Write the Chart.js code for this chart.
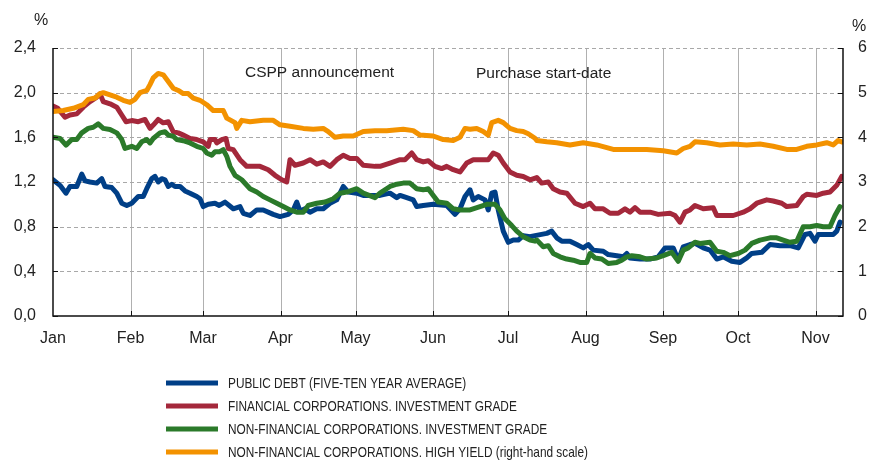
<!DOCTYPE html>
<html>
<head>
<meta charset="utf-8">
<script src="https://cdn.jsdelivr.net/npm/chart.js@4.4.1/dist/chart.umd.min.js"></script>
<style>
  body { margin: 0; background: #fff; }
  #wrap { width: 871px; height: 462px; position: relative; }
</style>
</head>
<body>
<div id="wrap"><canvas id="myChart"></canvas></div>
<script>
// days counted from 1 Jan 2016 (leap year)
const monthStarts = [0, 31, 60, 91, 121, 152, 182, 213, 244, 274, 305];
const monthLabels = ['Jan', 'Feb', 'Mar', 'Apr', 'May', 'Jun', 'Jul', 'Aug', 'Sep', 'Oct', 'Nov'];

const seriesLabels = [
    'PUBLIC DEBT (FIVE-TEN YEAR AVERAGE)',
    'FINANCIAL CORPORATIONS. INVESTMENT GRADE',
    'NON-FINANCIAL CORPORATIONS. INVESTMENT GRADE',
    'NON-FINANCIAL CORPORATIONS. HIGH YIELD (right-hand scale)'
];

// [day, %]
const publicDebt = [
    [0,1.22],[2.8,1.17],[5.2,1.10],[6.8,1.16],[9.5,1.16],[11.5,1.27],[12.8,1.21],[14.8,1.20],[17.5,1.19],[19.5,1.23],
    [20.8,1.16],[23.5,1.15],[25.5,1.10],[27.5,1.01],[29.5,0.99],[31.5,1.01],[34.1,1.07],[36.1,1.07],[37.5,1.14],[39.5,1.23],
    [40.8,1.25],[42.1,1.20],[43.5,1.23],[44.8,1.22],[46.1,1.16],[47.5,1.18],[48.8,1.16],[50.8,1.16],[52.8,1.12],[54.8,1.10],
    [57.5,1.07],[58.8,1.05],[60.1,0.98],[62.1,1.00],[64.8,1.01],[66.5,0.99],[68.8,1.02],[72.1,0.96],[74.8,0.98],[76.1,0.92],
    [78.8,0.90],[81.5,0.95],[84.1,0.95],[88.1,0.91],[90.8,0.89],[94.1,0.91],[96.1,0.95],[97.5,1.02],[98.8,0.94],[100.8,0.96],
    [102.8,0.93],[105.5,0.96],[108.1,0.96],[110.8,1.01],[113.5,1.04],[116.1,1.16],[118.1,1.11],[121.5,1.10],[124.1,1.08],[128.8,1.08],
    [130.8,1.08],[134.8,1.10],[137.5,1.06],[138.8,1.08],[141.5,1.06],[144.1,1.04],[145.5,0.98],[148.1,0.99],[152.1,1.00],[157.5,0.99],
    [160.8,0.91],[162.8,0.96],[164.8,1.07],[166.8,1.13],[168.1,1.04],[170.1,1.07],[172.8,1.04],[174.1,0.95],[175.5,1.10],[176.8,1.11],
    [178.1,0.95],[180.1,0.76],[182.1,0.66],[184.1,0.68],[186.1,0.68],[188.1,0.72],[190.8,0.71],[192.8,0.72],[197.5,0.74],[199.5,0.76],
    [201.5,0.70],[203.5,0.67],[206.8,0.67],[209.5,0.64],[212.1,0.61],[214.1,0.64],[216.1,0.59],[220.1,0.58],[222.1,0.55],[225.5,0.54],
    [228.1,0.53],[229.5,0.56],[230.8,0.52],[234.8,0.51],[238.8,0.51],[242.1,0.53],[244.8,0.61],[248.1,0.61],[250.1,0.50],[252.1,0.62],
    [254.8,0.64],[256.8,0.65],[260.1,0.61],[262.8,0.59],[265.5,0.51],[268.1,0.53],[271.5,0.49],[274.8,0.48],[277.5,0.52],[279.5,0.56],
    [283.5,0.57],[286.8,0.64],[290.8,0.63],[294.8,0.63],[298.1,0.61],[300.8,0.73],[302.8,0.74],[304.8,0.67],[306.1,0.73],[309.5,0.73],
    [312.1,0.73],[313.5,0.76],[314.8,0.84]
];

const financialIG = [
    [0,1.88],[1.9,1.86],[4.8,1.78],[6.8,1.80],[9.5,1.81],[12.1,1.87],[14.8,1.92],[17.5,1.96],[18.8,1.99],[20.1,1.92],
    [22.8,1.90],[25.5,1.87],[27.5,1.80],[29.2,1.74],[31.5,1.75],[34.1,1.74],[36.8,1.76],[38.8,1.68],[40.1,1.71],[42.1,1.76],
    [44.1,1.73],[46.1,1.74],[48.1,1.65],[50.1,1.64],[52.1,1.62],[54.8,1.59],[57.5,1.58],[60.1,1.56],[62.1,1.52],[62.8,1.58],
    [64.8,1.58],[65.5,1.55],[67.5,1.58],[69.2,1.59],[70.1,1.50],[72.1,1.49],[74.8,1.40],[77.5,1.34],[80.1,1.34],[82.8,1.34],
    [86.1,1.31],[88.8,1.26],[91.5,1.22],[93.5,1.20],[94.8,1.40],[96.8,1.35],[100.1,1.37],[102.8,1.40],[105.5,1.36],[108.1,1.38],
    [110.8,1.34],[113.5,1.40],[116.1,1.44],[118.8,1.41],[121.5,1.41],[124.1,1.35],[128.8,1.34],[130.8,1.34],[134.8,1.37],[138.8,1.40],
    [140.8,1.40],[143.5,1.46],[145.5,1.40],[148.1,1.38],[150.1,1.39],[152.8,1.34],[155.5,1.32],[157.5,1.34],[160.1,1.31],[162.8,1.29],
    [165.5,1.37],[168.1,1.40],[170.8,1.40],[174.1,1.40],[176.1,1.46],[178.1,1.44],[180.1,1.37],[182.8,1.29],[185.5,1.26],[188.1,1.25],
    [190.8,1.22],[193.5,1.24],[195.5,1.19],[198.1,1.20],[200.1,1.14],[202.8,1.11],[205.5,1.10],[208.8,1.01],[212.1,0.98],[214.8,1.01],
    [216.8,0.96],[220.1,0.96],[222.8,0.92],[226.1,0.92],[228.8,0.96],[230.8,0.93],[232.8,0.97],[234.8,0.93],[238.8,0.93],[242.1,0.91],
    [246.8,0.92],[248.8,0.90],[250.8,0.84],[252.8,0.93],[254.8,0.95],[256.8,0.99],[260.1,0.96],[264.1,0.97],[265.5,0.90],[268.1,0.90],
    [272.1,0.90],[276.1,0.93],[278.8,0.96],[281.5,1.01],[285.5,1.04],[288.1,1.03],[291.5,1.01],[293.5,0.98],[297.5,0.99],[300.1,1.07],
    [301.5,1.09],[305.5,1.08],[308.1,1.10],[310.8,1.11],[313.5,1.17],[315.5,1.25]
];

const nonFinancialIG = [
    [0,1.60],[2.8,1.59],[5.2,1.53],[7.5,1.58],[9.5,1.58],[11.5,1.64],[14.1,1.68],[16.1,1.69],[18.1,1.72],[20.1,1.68],
    [22.8,1.67],[25.5,1.64],[27.5,1.58],[28.8,1.50],[31.5,1.52],[33.5,1.50],[35.5,1.56],[37.5,1.58],[38.8,1.55],[40.1,1.59],
    [42.8,1.64],[44.8,1.65],[46.1,1.62],[48.1,1.61],[49.5,1.58],[52.1,1.57],[54.8,1.55],[57.5,1.52],[60.1,1.50],[61.5,1.46],
    [63.5,1.44],[64.8,1.47],[66.5,1.47],[68.1,1.49],[69.5,1.43],[70.8,1.34],[72.8,1.26],[75.5,1.22],[78.8,1.14],[81.5,1.11],
    [84.1,1.07],[86.8,1.04],[89.5,1.01],[92.1,0.98],[94.8,0.95],[97.5,0.93],[100.1,0.93],[102.1,0.99],[105.5,1.01],[108.8,1.02],
    [112.1,1.05],[114.8,1.10],[117.5,1.11],[121.5,1.14],[124.1,1.10],[128.8,1.06],[130.8,1.10],[134.8,1.16],[137.5,1.18],[140.1,1.19],
    [142.8,1.19],[145.5,1.14],[148.1,1.13],[150.1,1.14],[152.1,1.08],[154.1,1.02],[157.5,1.01],[160.1,0.96],[162.8,0.95],[166.8,0.95],
    [170.8,0.98],[173.5,1.00],[176.8,1.00],[178.8,0.95],[180.8,0.87],[183.5,0.81],[185.5,0.76],[188.1,0.71],[190.8,0.68],[192.8,0.67],
    [193.5,0.68],[196.1,0.62],[198.1,0.63],[200.1,0.56],[202.8,0.53],[205.5,0.51],[208.1,0.50],[210.8,0.48],[213.5,0.48],[214.8,0.56],
    [216.8,0.52],[219.5,0.51],[222.1,0.47],[225.5,0.48],[227.5,0.50],[229.5,0.53],[231.5,0.54],[234.8,0.53],[237.5,0.51],[241.5,0.52],
    [244.1,0.54],[247.5,0.57],[250.1,0.49],[252.1,0.59],[254.1,0.61],[256.8,0.66],[258.8,0.65],[262.8,0.66],[265.5,0.58],[268.1,0.57],
    [270.8,0.54],[274.1,0.56],[276.8,0.59],[279.5,0.65],[282.8,0.68],[286.8,0.70],[289.5,0.70],[292.1,0.68],[294.8,0.66],[297.5,0.67],
    [300.1,0.80],[302.8,0.80],[305.5,0.81],[308.1,0.80],[310.8,0.80],[312.8,0.90],[314.8,0.98]
];

// right-hand scale
const nonFinancialHY = [
    [0,4.58],[4.1,4.60],[8.1,4.65],[12.1,4.73],[14.1,4.85],[16.8,4.88],[18.8,4.98],[20.1,5.00],[22.8,4.95],[25.5,4.90],
    [28.1,4.83],[30.8,4.78],[32.8,4.85],[34.8,5.00],[37.5,5.05],[38.8,5.18],[40.1,5.33],[42.1,5.43],[44.1,5.40],[46.1,5.25],
    [48.1,5.10],[50.1,5.05],[52.1,4.98],[54.1,4.98],[56.1,4.88],[58.8,4.83],[61.5,4.73],[64.1,4.60],[68.1,4.60],[69.5,4.43],
    [72.8,4.33],[73.5,4.20],[75.5,4.38],[78.8,4.35],[84.1,4.38],[88.1,4.38],[90.8,4.28],[94.8,4.25],[100.1,4.20],[104.1,4.18],
    [108.1,4.20],[110.1,4.13],[112.8,4.00],[116.1,4.03],[120.1,4.03],[124.1,4.13],[128.8,4.15],[133.5,4.15],[140.1,4.18],[144.1,4.15],
    [146.8,4.05],[152.1,4.03],[156.1,3.95],[160.1,3.93],[162.8,4.00],[164.8,4.20],[166.8,4.18],[169.5,4.20],[172.1,4.13],[174.1,4.05],
    [175.5,4.33],[178.1,4.38],[180.1,4.33],[182.8,4.20],[185.5,4.15],[188.1,4.13],[190.1,4.08],[192.8,3.98],[193.5,3.93],[197.5,3.90],
    [201.5,3.88],[206.8,3.83],[212.1,3.88],[217.5,3.83],[224.1,3.73],[230.8,3.73],[237.5,3.73],[244.1,3.70],[249.5,3.65],[252.1,3.75],
    [254.8,3.80],[256.8,3.90],[261.5,3.88],[266.8,3.83],[272.1,3.85],[277.5,3.83],[282.8,3.85],[288.1,3.80],[293.5,3.73],[297.5,3.73],
    [301.5,3.80],[305.5,3.83],[309.5,3.88],[312.1,3.83],[314.1,3.93],[315.5,3.90]
];

// text notes placed on the left-hand scale
const notes = [
    { text: 'CSPP announcement', day: 76.8, value: 2.18 },
    { text: 'Purchase start-date', day: 169.2, value: 2.17 }
];

const colors = ['#003f87', '#a4283b', '#2b7a2a', '#f39200'];
const fontFamily = '"Liberation Sans", Arial, sans-serif';
const legendFont = '15px ' + fontFamily;

function toPoints(arr) {
    return arr.map(p => ({ x: p[0], y: p[1] }));
}

// gridlines, axis lines, inner tick marks, % labels, notes
const framePlugin = {
    id: 'frame',
    beforeDatasetsDraw(chart) {
        const { ctx, chartArea: a, scales } = chart;
        ctx.save();
        ctx.lineWidth = 1;
        ctx.strokeStyle = '#b0b0b0';
        monthStarts.slice(1).forEach(d => {
            const x = Math.round(scales.x.getPixelForValue(d)) + 0.5;
            ctx.beginPath(); ctx.moveTo(x, a.top); ctx.lineTo(x, a.bottom); ctx.stroke();
        });
        ctx.strokeStyle = '#a8a8a8';
        ctx.setLineDash([4, 3]);
        scales.y.ticks.forEach(t => {
            if (t.value === 0) return;
            const y = Math.round(scales.y.getPixelForValue(t.value)) + 0.5;
            ctx.beginPath(); ctx.moveTo(a.left, y); ctx.lineTo(a.right, y); ctx.stroke();
        });
        ctx.restore();
    },
    afterDatasetsDraw(chart) {
        const { ctx, chartArea: a, scales } = chart;
        ctx.save();
        ctx.strokeStyle = '#111';
        ctx.lineWidth = 1.5;
        ctx.beginPath();
        ctx.moveTo(a.left, a.top); ctx.lineTo(a.left, a.bottom); ctx.lineTo(a.right, a.bottom); ctx.lineTo(a.right, a.top);
        ctx.stroke();
        ctx.lineWidth = 1;
        scales.y.ticks.forEach(t => {
            const y = Math.round(scales.y.getPixelForValue(t.value)) + 0.5;
            ctx.beginPath(); ctx.moveTo(a.left, y); ctx.lineTo(a.left + 5, y); ctx.stroke();
            ctx.beginPath(); ctx.moveTo(a.right - 5, y); ctx.lineTo(a.right, y); ctx.stroke();
        });
        monthStarts.slice(1).forEach(d => {
            const x = Math.round(scales.x.getPixelForValue(d)) + 0.5;
            ctx.beginPath(); ctx.moveTo(x, a.bottom); ctx.lineTo(x, a.bottom - 5); ctx.stroke();
        });

        ctx.fillStyle = '#222';
        ctx.font = '16px ' + fontFamily;
        ctx.textBaseline = 'middle';
        ctx.textAlign = 'center';
        ctx.fillText('%', 41, 21);
        ctx.fillText('%', 859, 27);

        ctx.textAlign = 'left';
        ctx.font = '15.5px ' + fontFamily;
        notes.forEach(n => {
            ctx.fillText(n.text, scales.x.getPixelForValue(n.day), scales.y.getPixelForValue(n.value));
        });
        ctx.restore();
    },
    afterDraw(chart) {
        // legend, one item per row; text squeezed to look like a narrow face
        const { ctx } = chart;
        ctx.save();
        ctx.font = legendFont;
        ctx.textBaseline = 'middle';
        ctx.fillStyle = '#222';
        chart.data.datasets.forEach((ds, i) => {
            const y = 383 + i * 23;
            ctx.strokeStyle = ds.borderColor;
            ctx.lineWidth = 5;
            ctx.beginPath(); ctx.moveTo(166, y); ctx.lineTo(218, y); ctx.stroke();
            ctx.save();
            ctx.translate(228, y + 1);
            ctx.scale(0.79, 1);
            ctx.fillText(ds.label, 0, 0);
            ctx.restore();
        });
        ctx.restore();
    }
};

const datasets = [publicDebt, financialIG, nonFinancialIG, nonFinancialHY].map((arr, i) => ({
    label: seriesLabels[i],
    data: toPoints(arr),
    borderColor: colors[i],
    backgroundColor: colors[i],
    borderWidth: 5,
    pointRadius: 0,
    tension: 0,
    borderJoinStyle: 'round',
    borderCapStyle: 'round',
    yAxisID: i === 3 ? 'y2' : 'y',
    order: 4 - i
}));

const ctx = document.getElementById('myChart');
new Chart(ctx, {
    type: 'line',
    data: { datasets: datasets },
    plugins: [framePlugin],
    options: {
        responsive: true,
        maintainAspectRatio: false,
        animation: false,
        layout: { padding: { top: 48, left: 0, right: 0, bottom: 0 } },
        plugins: { legend: { display: false }, tooltip: { enabled: false } },
        scales: {
            x: {
                type: 'linear',
                min: 0,
                max: 316,
                afterBuildTicks: scale => { scale.ticks = monthStarts.map(v => ({ value: v })); },
                afterFit: scale => { scale.height = 146; },
                grid: { display: false, drawTicks: false },
                border: { display: false },
                ticks: {
                    autoSkip: false,
                    maxRotation: 0,
                    padding: 13,
                    color: '#222',
                    font: { family: fontFamily, size: 16 },
                    callback: v => monthLabels[monthStarts.indexOf(v)]
                }
            },
            y: {
                position: 'left',
                min: 0,
                max: 2.4,
                afterFit: scale => { scale.width = 53; },
                grid: { display: false, drawTicks: false },
                border: { display: false },
                ticks: {
                    stepSize: 0.4,
                    padding: 17,
                    color: '#222',
                    font: { family: fontFamily, size: 16 },
                    callback: v => v.toFixed(1).replace('.', ',')
                }
            },
            y2: {
                position: 'right',
                min: 0,
                max: 6,
                afterFit: scale => { scale.width = 28; },
                grid: { display: false, drawTicks: false },
                border: { display: false },
                ticks: {
                    stepSize: 1,
                    padding: 15,
                    color: '#222',
                    font: { family: fontFamily, size: 16 }
                }
            }
        }
    }
});
</script>
</body>
</html>
